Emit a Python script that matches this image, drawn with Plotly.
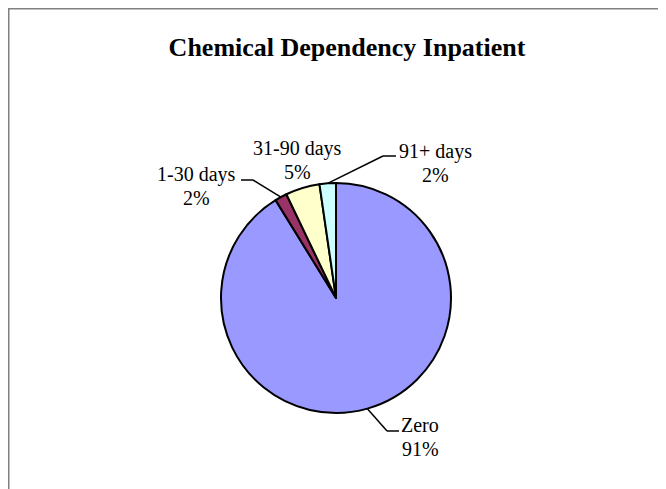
import math
import plotly.graph_objects as go

# data
LABELS = ['Zero', '1-30 days', '31-90 days', '91+ days']
VALUES = [91.2, 1.7, 4.8, 2.3]
COLORS = ['#9999FF', '#993366', '#FFFFCC', '#CCFFFF']

W, H = 666, 489
OFF = 8  # page body margin of the html output
FONT = 'Liberation Serif, Times New Roman, serif'

# pie geometry in screen pixels
CX, CY, R = 336, 298, 115

# label placement (screen pixel centres of first line), leader elbows
LABEL_POS = {
    'Zero': (420, 425),
    '1-30 days': (196, 174),
    '31-90 days': (297, 148),
    '91+ days': (436, 151),
}
LEADERS = {
    'Zero': ((399, 431), (387, 431)),
    '1-30 days': ((241, 180), (253, 180)),
    '91+ days': ((396, 156), (383, 156)),
}


def px(x):
    return (x - OFF) / W


def py(y):
    return 1 - (y - OFF) / H


fig = go.Figure(go.Pie(
    labels=LABELS, values=VALUES, sort=False, direction='clockwise', rotation=0,
    marker=dict(colors=COLORS, line=dict(color='black', width=2)),
    textinfo='none', hoverinfo='label+percent', showlegend=False,
    domain=dict(x=[px(CX - R), px(CX + R)], y=[py(CY + R), py(CY - R)]),
))

total = sum(VALUES)
annotations = []
shapes = [
    # chart frame (only top and left edges visible)
    dict(type='line', xref='paper', yref='paper', x0=0, y0=1, x1=1.02, y1=1,
         line=dict(color='#808080', width=3)),
    dict(type='line', xref='paper', yref='paper', x0=0, y0=1, x1=0, y1=-0.02,
         line=dict(color='#808080', width=3)),
]

cum = 0
for lab, val in zip(LABELS, VALUES):
    pct = val / total
    mid = (cum + pct / 2) * 2 * math.pi  # clockwise from 12 o'clock
    cum += pct
    lx, ly = LABEL_POS[lab]
    annotations.append(dict(text=lab, x=px(lx), y=py(ly), xref='paper', yref='paper',
                            showarrow=False, xanchor='center', yanchor='middle',
                            font=dict(family=FONT, size=20, color='black')))
    annotations.append(dict(text=f'{round(pct * 100)}%', x=px(lx), y=py(ly + 24),
                            xref='paper', yref='paper', showarrow=False,
                            xanchor='center', yanchor='middle',
                            font=dict(family=FONT, size=20, color='black')))
    if lab in LEADERS:
        (ax, ay), (bx, by) = LEADERS[lab]
        ex = CX + R * math.sin(mid)
        ey = CY - R * math.cos(mid)
        for (x0, y0, x1, y1) in [(ax, ay, bx, by), (bx, by, ex, ey)]:
            shapes.append(dict(type='line', xref='paper', yref='paper',
                               x0=px(x0), y0=py(y0), x1=px(x1), y1=py(y1),
                               line=dict(color='black', width=1.5)))

fig.update_layout(
    width=W, height=H,
    margin=dict(l=0, r=0, t=0, b=0),
    paper_bgcolor='white', plot_bgcolor='white',
    title=dict(text='<b>Chemical Dependency Inpatient</b>', x=px(347), y=py(47),
               xanchor='center', yanchor='middle',
               font=dict(family=FONT, size=26, color='black')),
    annotations=annotations,
    shapes=shapes,
)

fig.write_html('out.html')
